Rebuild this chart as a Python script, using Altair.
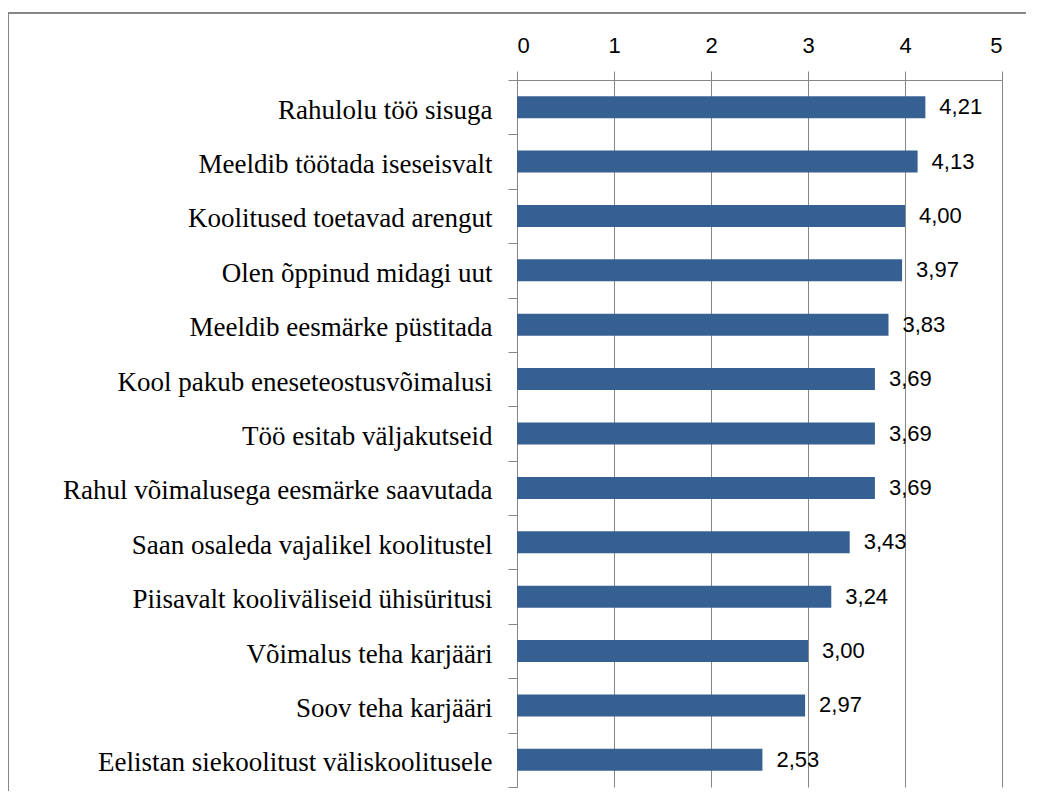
import altair as alt
import pandas as pd

categories = [
    "Rahulolu töö sisuga",
    "Meeldib töötada iseseisvalt",
    "Koolitused toetavad arengut",
    "Olen õppinud midagi uut",
    "Meeldib eesmärke püstitada",
    "Kool pakub eneseteostusvõimalusi",
    "Töö esitab väljakutseid",
    "Rahul võimalusega eesmärke saavutada",
    "Saan osaleda vajalikel koolitustel",
    "Piisavalt kooliväliseid ühisüritusi",
    "Võimalus teha karjääri",
    "Soov teha karjääri",
    "Eelistan siekoolitust väliskoolitusele",
]
values = [4.21, 4.13, 4.00, 3.97, 3.83, 3.69, 3.69, 3.69, 3.43, 3.24, 3.00, 2.97, 2.53]
labels = [f"{v:.2f}".replace(".", ",") for v in values]

df = pd.DataFrame({"cat": categories, "val": values, "lab": labels})

GRAY = "#868686"
BAR = "#376092"

y_enc = alt.Y(
    "cat:N",
    sort=categories,
    title=None,
    scale=alt.Scale(paddingInner=0, paddingOuter=0),
    axis=alt.Axis(
        orient="left",
        tickBand="extent",
        tickSize=9,
        tickColor=GRAY,
        domainColor=GRAY,
        labelPadding=16,
        labelFont="Liberation Serif",
        labelFontSize=27,
        labelColor="black",
        labelLimit=0,
        labelOffset=3,
        grid=False,
    ),
)

x_enc = alt.X(
    "val:Q",
    title=None,
    scale=alt.Scale(domain=[0, 5], nice=False),
    axis=alt.Axis(
        orient="top",
        values=[0, 1, 2, 3, 4, 5],
        tickSize=9,
        tickColor=GRAY,
        domainColor=GRAY,
        gridColor=GRAY,
        grid=True,
        labelPadding=14,
        labelFont="Liberation Sans",
        labelFontSize=22,
        labelColor="black",
        format="d",
    ),
)

base = alt.Chart(df)

bars = base.mark_bar(color=BAR, size=22).encode(x=x_enc, y=y_enc)

text = base.mark_text(
    align="left", baseline="middle", dx=14, font="Liberation Sans", fontSize=22, color="black"
).encode(x=alt.X("val:Q"), y=alt.Y("cat:N", sort=categories), text="lab:N")

border_top = alt.Chart(alt.Data(values=[{}])).mark_rule(color=GRAY, strokeWidth=2).encode(
    x=alt.value(-509), x2=alt.value(530), y=alt.value(-67)
)
border_left = alt.Chart(alt.Data(values=[{}])).mark_rule(color=GRAY, strokeWidth=2).encode(
    x=alt.value(-509), y=alt.value(-67), y2=alt.value(730)
)

chart = (
    alt.layer(bars, text, border_top, border_left)
    .properties(
        width=485,
        height=707,
        padding={"left": 509, "top": 72, "right": 24, "bottom": 4},
        autosize=alt.AutoSizeParams(type="none"),
        background="white",
    )
    .configure_view(strokeWidth=0)
)

chart.save("out.html", embed_options={"renderer": "svg", "actions": False})
